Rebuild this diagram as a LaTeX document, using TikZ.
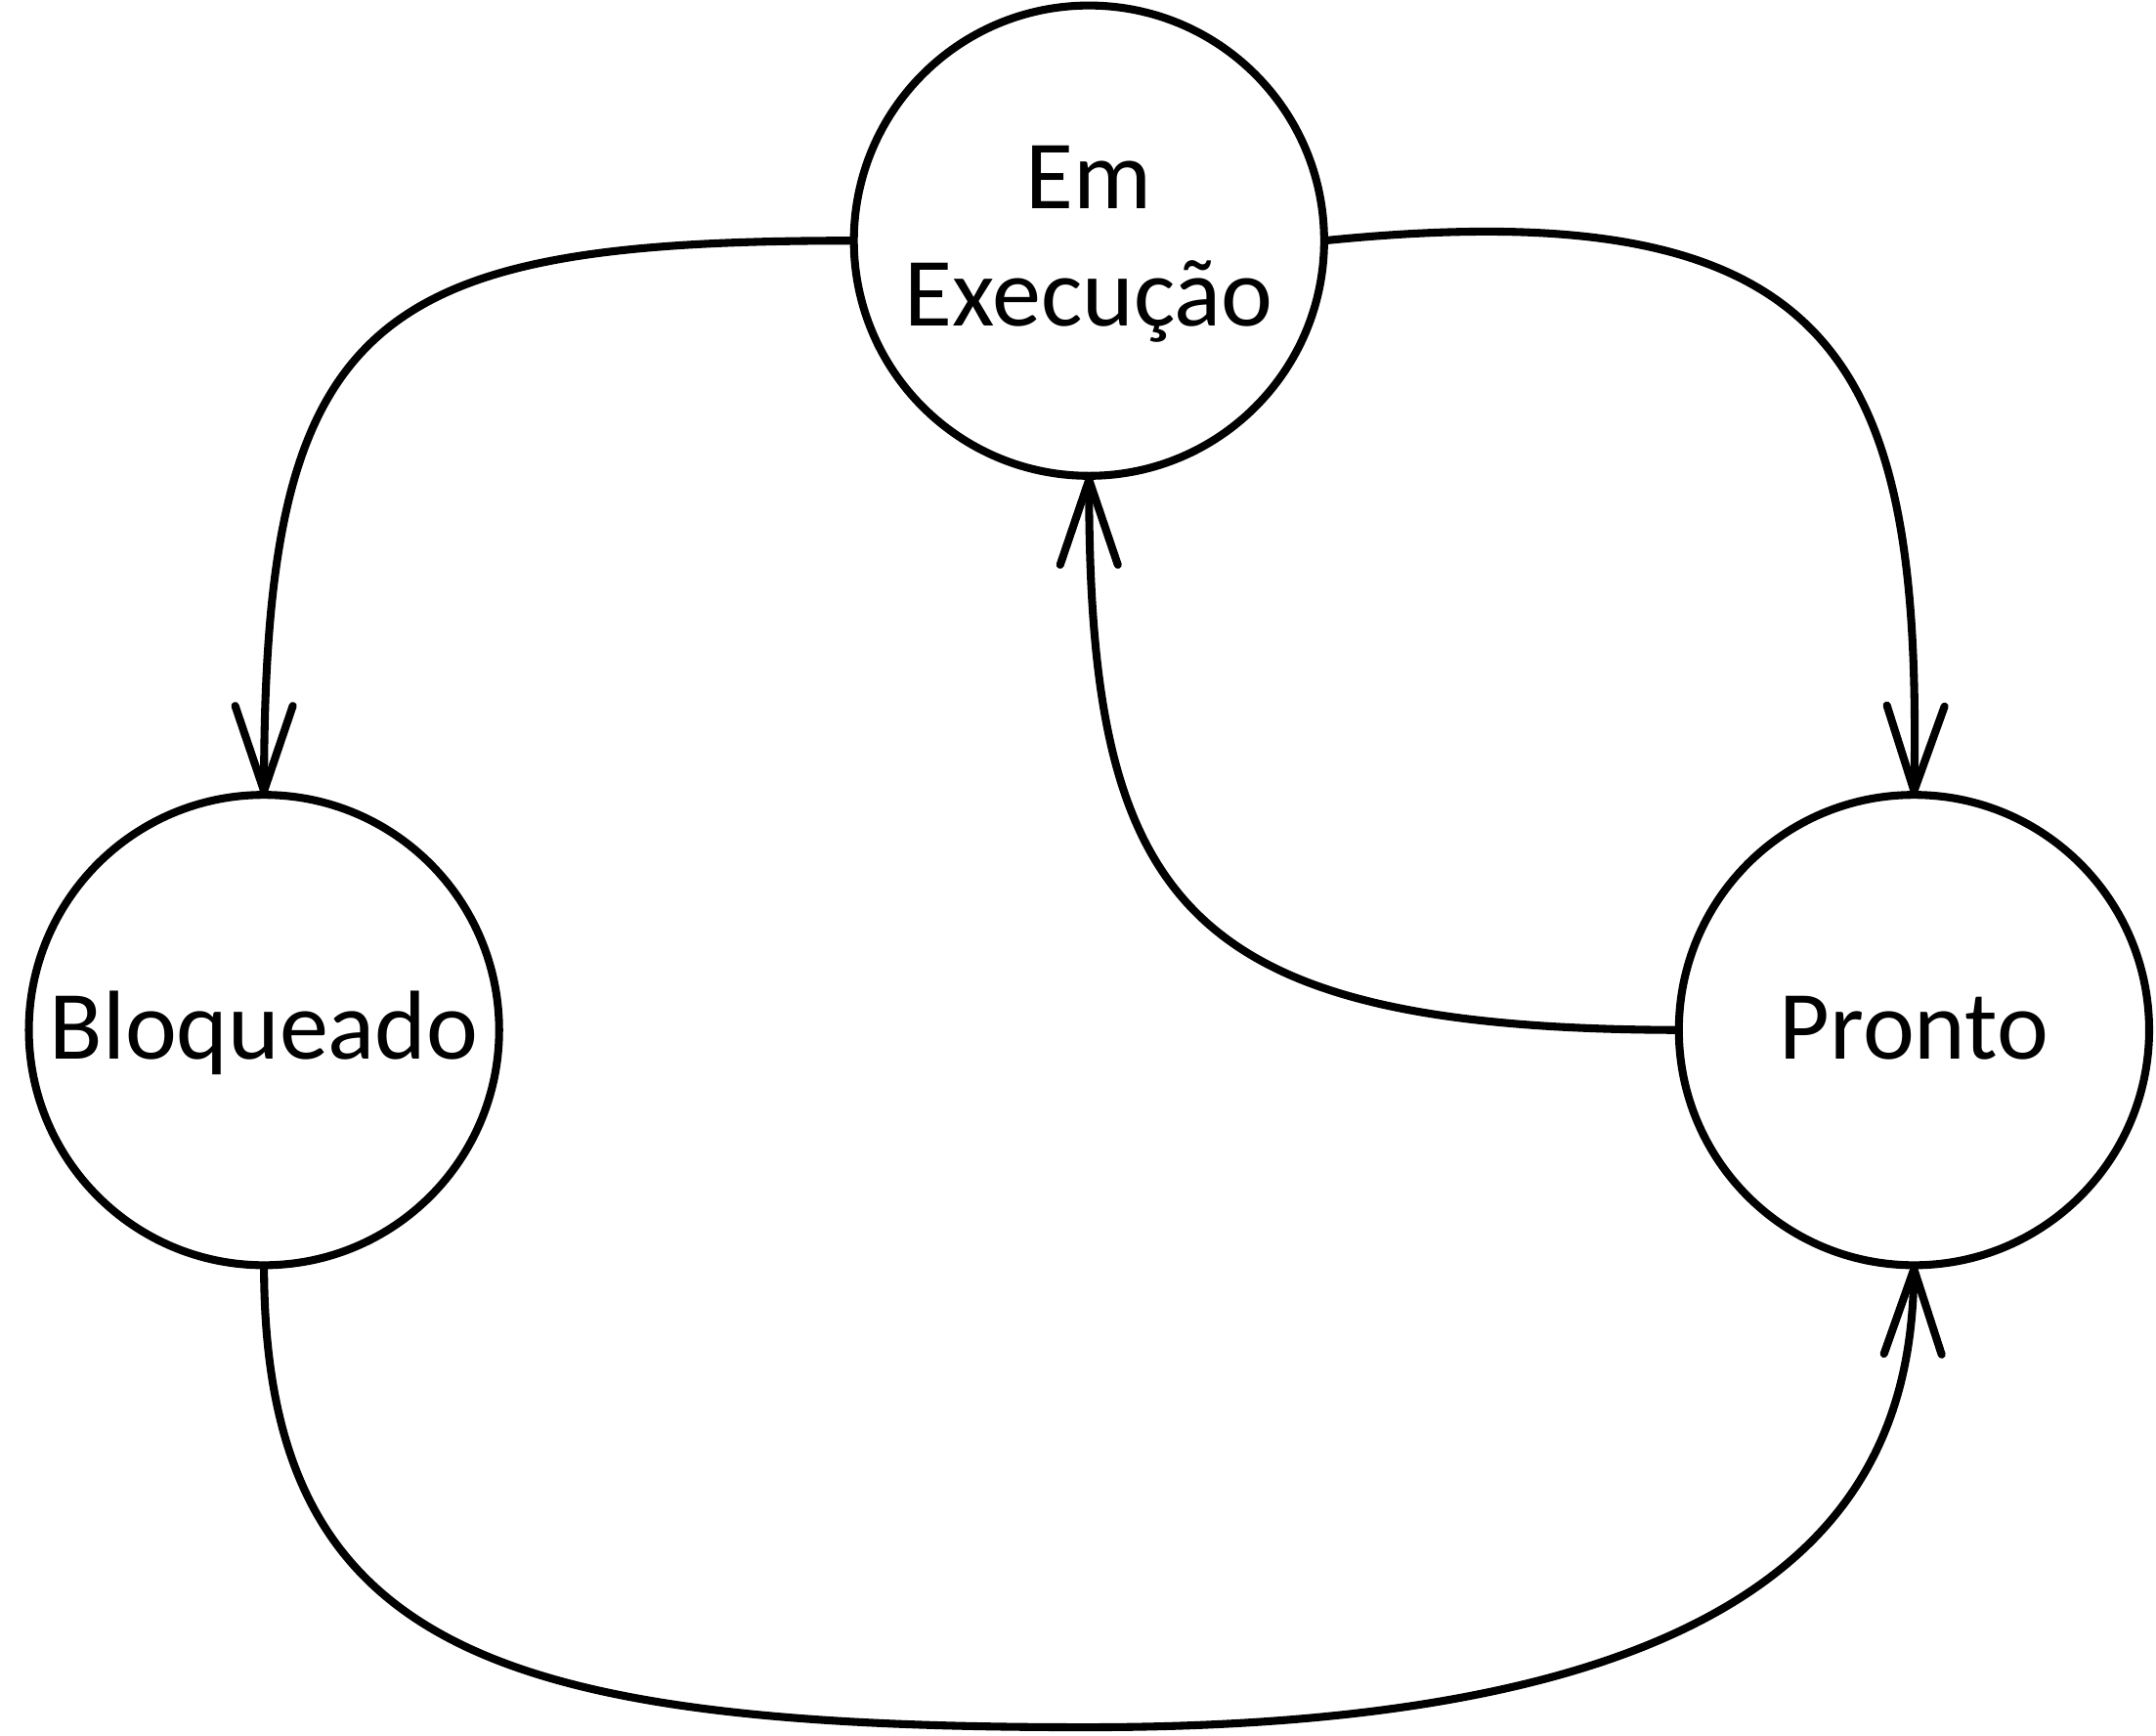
\documentclass[tikz,border=0pt]{standalone}
\usepackage{fontspec}
\setmainfont{Carlito}
\usetikzlibrary{arrows.meta}
\begin{document}
\begin{tikzpicture}[x=0.014069cm,y=-0.014069cm,
  state/.style={circle,draw,line width=2.3pt,minimum size=4.8116cm,inner sep=0pt,outer sep=0pt},
  lbl/.style={font=\fontsize{28.5}{34}\selectfont,inner sep=0pt,align=center,anchor=base},
  conn/.style={line width=2.3pt,-{Straight Barb[length=0.87cm,width=0.59cm,round]}}]
\useasboundingbox (0,0) rectangle (1568,1262);
\node[state] (E) at (792,175) {};
\node[state] (B) at (192,749) {};
\node[state] (P) at (1392,749) {};
\node[lbl] (Elabel) at (792,237) {Em\\Execução};
\node[lbl] (Blabel) at (192,770) {Bloqueado};
\node[lbl] (Plabel) at (1392,770) {Pronto};
\coordinate (bot) at (790,1256);
\draw[conn] (E.west) .. controls (270,175) and (192,228) .. (B.north);
\draw[conn] (E.east) .. controls (1339,137) and (1398,262) .. (P.north);
\draw[conn] (P.west) .. controls (860,748) and (792,658) .. (E.south);
\draw[conn] (B.south) .. controls (192,1200) and (360,1256) .. (bot) .. controls (1321,1256) and (1390,1071) .. (P.south);
\end{tikzpicture}
\end{document}
